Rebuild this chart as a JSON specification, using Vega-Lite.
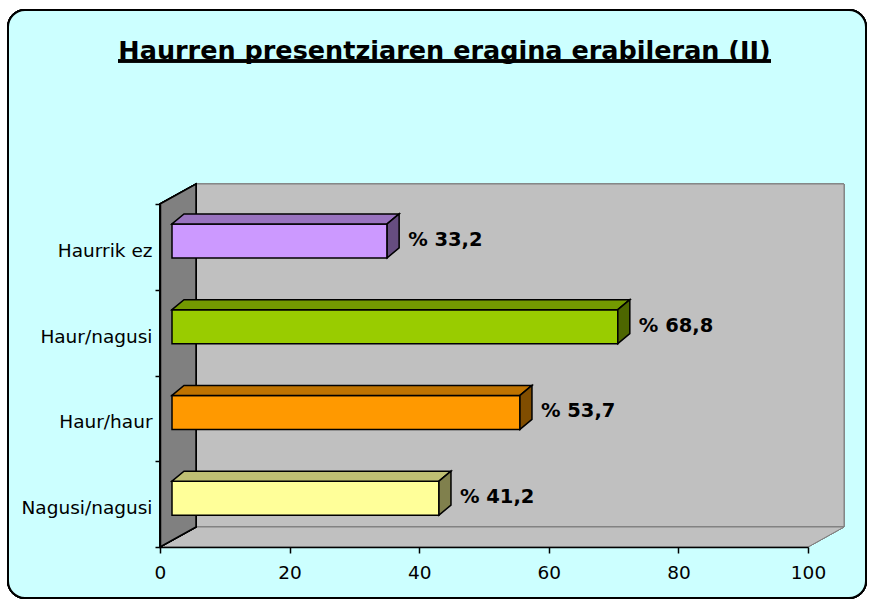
{
  "$schema": "https://vega.github.io/schema/vega-lite/v6.json",
  "width": 648,
  "height": 343,
  "autosize": {"type": "none"},
  "padding": {"left": 160, "top": 204, "right": 63, "bottom": 54},
  "background": "white",
  "title": {
    "text": "Haurren presentziaren eragina erabileran (II)",
    "font": "DejaVu Sans",
    "fontSize": 25.5,
    "fontWeight": "bold",
    "color": "black",
    "anchor": "middle",
    "frame": "group",
    "baseline": "alphabetic",
    "offset": -75,
    "dx": -39.5
  },
  "data": {
    "values": [
      {"cat": "Haurrik ez", "value": 33.2, "label": "% 33,2"},
      {"cat": "Haur/nagusi", "value": 68.8, "label": "% 68,8"},
      {"cat": "Haur/haur", "value": 53.7, "label": "% 53,7"},
      {"cat": "Nagusi/nagusi", "value": 41.2, "label": "% 41,2"}
    ]
  },
  "config": {
    "view": {"stroke": null},
    "axis": {"zindex": 1, "grid": false}
  },
  "resolve": {"scale": {"fill": "independent"}},
  "layer": [
    {
      "mark": {"type": "rect", "fill": "#CCFFFF", "stroke": "black", "strokeWidth": 2, "cornerRadius": 17, "xOffset": -152, "x2Offset": 58, "y": -194, "y2": 394},
      "encoding": {"x": {"datum": 0, "type": "quantitative"}, "x2": {"datum": 100}}
    },
    {
      "mark": {"type": "rule", "stroke": "black", "strokeWidth": 3, "xOffset": -42, "x2Offset": -37, "y": -143},
      "encoding": {"x": {"datum": 0, "type": "quantitative"}, "x2": {"datum": 100}}
    },
    {
      "mark": {"type": "point", "shape": "M36,-191.5L684,-191.5L684,151.5L36,151.5Z", "size": 4, "filled": true, "fill": "#C0C0C0", "stroke": "#808080", "strokeWidth": 1, "opacity": 1},
      "encoding": {"x": {"datum": 0, "type": "quantitative"}}
    },
    {
      "mark": {"type": "point", "shape": "M0,171.5L36,151.5L684,151.5L648,171.5Z", "size": 4, "filled": true, "fill": "#C0C0C0", "stroke": "#808080", "strokeWidth": 1, "opacity": 1},
      "encoding": {"x": {"datum": 0, "type": "quantitative"}}
    },
    {
      "mark": {"type": "point", "shape": "M0,-171.5L36,-191.5L36,151.5L0,171.5Z", "size": 4, "filled": true, "fill": "#808080", "stroke": "black", "strokeWidth": 1.5, "opacity": 1},
      "encoding": {"x": {"datum": 0, "type": "quantitative"}}
    },
    {
      "mark": {"type": "bar", "height": 34, "xOffset": 12, "x2Offset": 12, "yOffset": -6, "stroke": "black", "strokeWidth": 1.5},
      "encoding": {
        "y": {
          "field": "cat", "type": "nominal", "sort": null,
          "scale": {"paddingInner": 0, "paddingOuter": 0},
          "axis": {"title": null, "tickBand": "extent", "domainColor": "black", "domainWidth": 1.5, "tickColor": "black", "tickWidth": 1.5, "tickSize": 5, "labelFont": "DejaVu Sans", "labelFontSize": 18.5, "labelColor": "black", "labelPadding": 3, "labelOffset": 3.5, "zindex": 1}
        },
        "x": {
          "field": "value", "type": "quantitative",
          "scale": {"domain": [0, 100], "nice": false},
          "axis": {"title": null, "values": [0, 20, 40, 60, 80, 100], "domainColor": "black", "domainWidth": 1.5, "tickColor": "black", "tickWidth": 1.5, "tickSize": 6, "labelFont": "DejaVu Sans", "labelFontSize": 18.5, "labelColor": "black", "labelPadding": 10, "labelFlush": false, "zindex": 1}
        },
        "fill": {
          "field": "cat", "type": "nominal",
          "scale": {"domain": ["Haurrik ez", "Haur/nagusi", "Haur/haur", "Nagusi/nagusi"], "range": ["#CC99FF", "#99CC00", "#FF9900", "#FFFF99"]},
          "legend": null
        }
      }
    },
    {
      "mark": {
        "type": "point",
        "shape": {"expr": "'M' + (12 - (scale('x', datum.value) - scale('x', 0))) + ',-23L' + (24 - (scale('x', datum.value) - scale('x', 0))) + ',-33L24,-33L12,-23Z'"},
        "size": 4, "filled": true, "opacity": 1, "stroke": "black", "strokeWidth": 1.5
      },
      "encoding": {
        "x": {"field": "value", "type": "quantitative"},
        "y": {"field": "cat", "type": "nominal", "sort": null},
        "fill": {
          "field": "cat", "type": "nominal",
          "scale": {"domain": ["Haurrik ez", "Haur/nagusi", "Haur/haur", "Nagusi/nagusi"], "range": ["#9973BF", "#739900", "#BF7300", "#BFBF73"]},
          "legend": null
        }
      }
    },
    {
      "mark": {"type": "point", "shape": "M12,-23L24,-33L24,1L12,11Z", "size": 4, "filled": true, "opacity": 1, "stroke": "black", "strokeWidth": 1.5},
      "encoding": {
        "x": {"field": "value", "type": "quantitative"},
        "y": {"field": "cat", "type": "nominal", "sort": null},
        "fill": {
          "field": "cat", "type": "nominal",
          "scale": {"domain": ["Haurrik ez", "Haur/nagusi", "Haur/haur", "Nagusi/nagusi"], "range": ["#664D80", "#4D6600", "#804D00", "#80804D"]},
          "legend": null
        }
      }
    },
    {
      "mark": {"type": "text", "align": "left", "baseline": "middle", "dx": 33, "dy": -7, "font": "DejaVu Sans", "fontSize": 19.5, "fontWeight": "bold", "color": "black"},
      "encoding": {
        "x": {"field": "value", "type": "quantitative"},
        "y": {"field": "cat", "type": "nominal", "sort": null},
        "text": {"field": "label"}
      }
    }
  ]
}
